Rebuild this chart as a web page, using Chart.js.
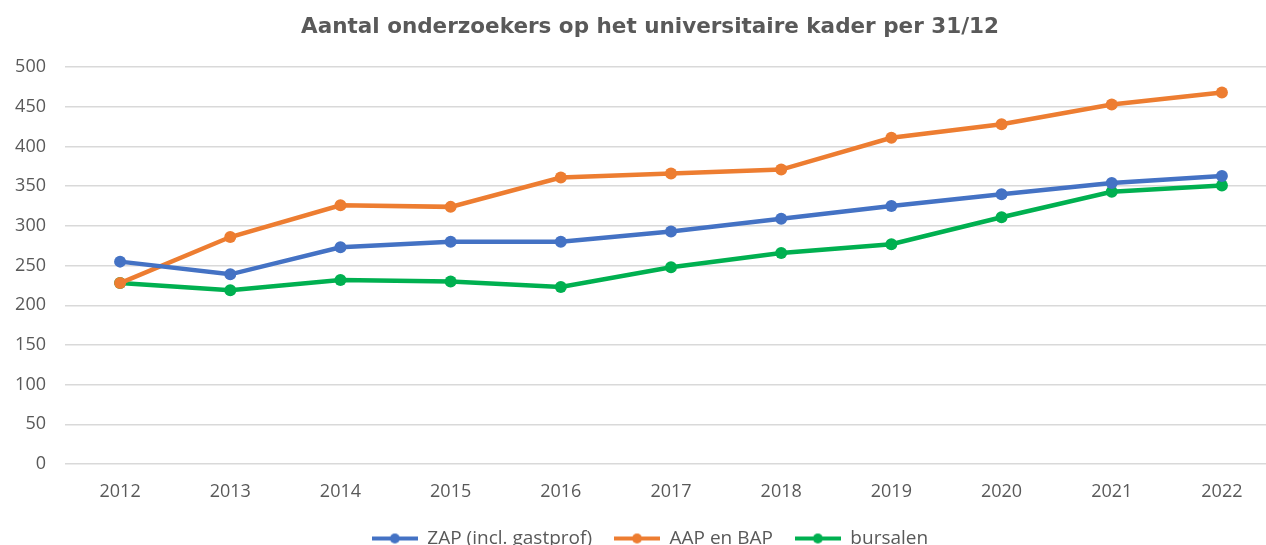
<!DOCTYPE html>
<html>
<head>
<meta charset="utf-8">
<script src="https://cdn.jsdelivr.net/npm/chart.js@4.4.1/dist/chart.umd.min.js"></script>
<style>
  html, body { margin: 0; padding: 0; background: #ffffff; overflow: hidden; }
  #wrap { position: absolute; left: 0; top: 0; width: 1300px; height: 558px; }
</style>
</head>
<body>
<div id="wrap"><canvas id="c"></canvas></div>
<script>
const categories = ['2012','2013','2014','2015','2016','2017','2018','2019','2020','2021','2022'];
const zap      = [255, 239, 273, 280, 280, 293, 309, 325, 340, 354, 363];
const aapBap   = [228, 286, 326, 324, 361, 366, 371, 411, 428, 453, 468];
const bursalen = [228, 219, 232, 230, 223, 248, 266, 277, 311, 343, 351];
const seriesNames = ['ZAP (incl. gastprof)', 'AAP en BAP', 'bursalen'];
const yTicks = [0, 50, 100, 150, 200, 250, 300, 350, 400, 450, 500];

const colors = ['#4472C4', '#ED7D31', '#00B050'];
const textColor = '#595959';
const FONT = '"Open Sans", "Noto Sans", sans-serif';
const TITLE_FONT = '"DejaVu Sans", sans-serif';

function legendIcon(color) {
  const c = document.createElement('canvas');
  c.width = 46; c.height = 12;
  const x = c.getContext('2d');
  x.strokeStyle = color; x.lineWidth = 4;
  x.beginPath(); x.moveTo(0, 6); x.lineTo(46, 6); x.stroke();
  x.fillStyle = color;
  x.beginPath(); x.arc(23, 6, 5, 0, Math.PI * 2); x.fill();
  return c;
}
const icons = colors.map(legendIcon);

function ds(label, data, color) {
  return {
    label, data,
    borderColor: color, backgroundColor: color,
    borderWidth: 4.5,
    pointRadius: 6, pointHoverRadius: 6,
    pointBackgroundColor: color, pointBorderColor: color, pointBorderWidth: 0,
    tension: 0, fill: false
  };
}

new Chart(document.getElementById('c'), {
  type: 'line',
  data: {
    labels: categories,
    datasets: [
      ds(seriesNames[0], zap, colors[0]),
      ds(seriesNames[1], aapBap, colors[1]),
      ds(seriesNames[2], bursalen, colors[2])
    ]
  },
  options: {
    responsive: true,
    maintainAspectRatio: false,
    animation: false,
    layout: { padding: 0 },
    plugins: {
      title: {
        display: true,
        text: 'Aantal onderzoekers op het universitaire kader per 31/12',
        color: textColor,
        font: { family: TITLE_FONT, size: 21.5, weight: 'bold', lineHeight: 1.2 },
        padding: { top: 15, bottom: 26.4 }
      },
      legend: {
        position: 'bottom',
        labels: {
          color: textColor,
          font: { family: FONT, size: 19 },
          usePointStyle: true,
          pointStyleWidth: 46,
          padding: 22,
          generateLabels: (chart) => {
            const items = Chart.defaults.plugins.legend.labels.generateLabels(chart);
            items.forEach((it, i) => { it.pointStyle = icons[i]; });
            return items;
          }
        }
      },
      tooltip: { enabled: false }
    },
    scales: {
      x: {
        type: 'category',
        offset: true,
        grid: { display: false, drawTicks: false },
        border: { display: false },
        ticks: { color: textColor, font: { family: FONT, size: 18 }, padding: 17, maxRotation: 0 },
        afterFit: (s) => { s.height = 43; }
      },
      y: {
        min: 0, max: 500,
        afterBuildTicks: (s) => { s.ticks = yTicks.map(v => ({ value: v })); },
        grid: { color: '#D9D9D9', lineWidth: 1.5, drawTicks: false },
        border: { display: false },
        ticks: { color: textColor, font: { family: FONT, size: 18 }, padding: 19 },
        afterFit: (s) => { s.width = 65; }
      },
      y2: {
        position: 'right',
        display: true,
        grid: { display: false, drawTicks: false },
        border: { display: false },
        ticks: { display: false },
        afterFit: (s) => { s.width = 23; }
      }
    }
  }
});
</script>
</body>
</html>
